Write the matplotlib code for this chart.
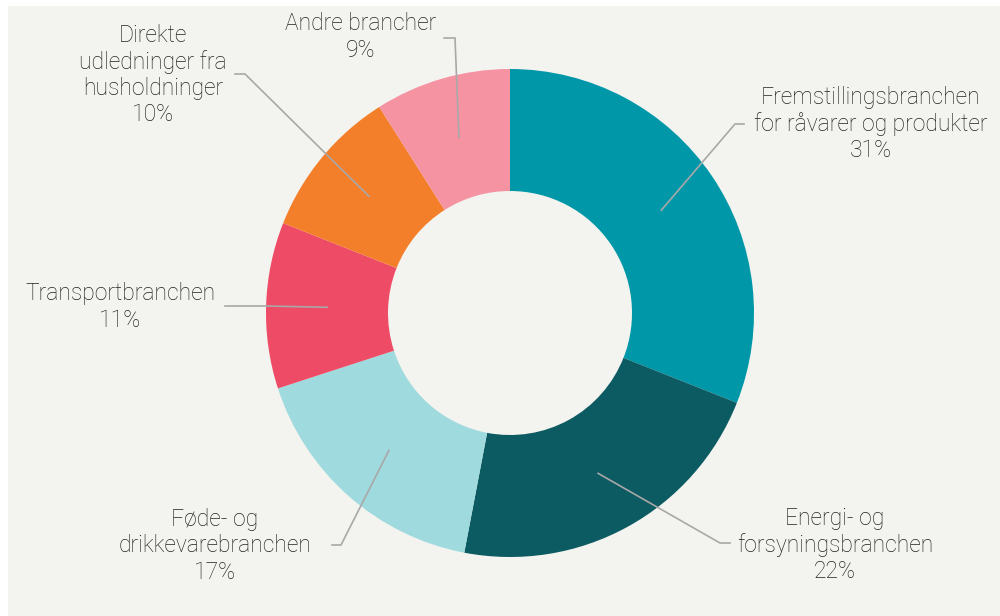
import numpy as np
import matplotlib.pyplot as plt
from matplotlib.patches import Rectangle

# andele i procent, med uret fra kl. 12
labels = ['Fremstillingsbranchen\nfor råvarer og produkter', 'Energi- og\nforsyningsbranchen',
          'Føde- og\ndrikkevarebranchen', 'Transportbranchen',
          'Direkte\nudledninger fra\nhusholdninger', 'Andre brancher']
shares = [31, 22, 17, 11, 10, 9]
colors = ['#0098a8', '#0c5a62', '#9fdade', '#ee4c66', '#f47f2b', '#f593a3']

W, H = 1000, 616
plt.rcParams['font.family'] = ['Roboto', 'DejaVu Sans']

fig = plt.figure(figsize=(W / 100, H / 100), dpi=100, facecolor='white')
ax = fig.add_axes([0, 0, 1, 1])

# grå baggrund med hvid kant i top og venstre side
fig.patches.append(Rectangle((8 / W, 0), 1, (H - 6) / H, transform=fig.transFigure,
                             facecolor='#f3f3ef', edgecolor='none', zorder=-10))

cx, cy, R = 510, H - 313, 244
wedges, _ = ax.pie(shares, colors=colors, startangle=90, counterclock=False,
                   center=(cx, cy), radius=R, frame=True,
                   wedgeprops=dict(width=R * 0.5, edgecolor='none'))
ax.set_xlim(0, W)
ax.set_ylim(0, H)
ax.axis('off')

# placering af etiketter (pixel, y fra top): tekstcentrum, knæk, ende af linje
label_pos = [(871, 124), (835, 545), (215, 546), (120, 307), (153, 75), (361, 37)]
elbows = [(735, 124), (720, 543), (341, 545), (265, 306), (245, 74), (455, 38)]
ends = [(744, 124), (730, 543), (332, 545), (225, 306), (235, 74), (444, 38)]

for w, lab, s, (tx, ty), (ex, ey), (fx, fy) in zip(wedges, labels, shares, label_pos, elbows, ends):
    mid = np.deg2rad((w.theta1 + w.theta2) / 2)
    r = R * 0.75
    ax0, ay0 = cx + r * np.cos(mid), cy + r * np.sin(mid)
    ax.plot([ax0, ex, fx], [ay0, H - ey, H - fy], color='#a8a8a8', lw=1.2,
            solid_joinstyle='miter', zorder=5)
    ax.text(tx, H - ty, f'{lab}\n{s}%', ha='center', va='center', fontsize=16.5,
            fontweight='light', color='#222222', linespacing=1.18)

fig.savefig('out.png', dpi=100, facecolor='white')
